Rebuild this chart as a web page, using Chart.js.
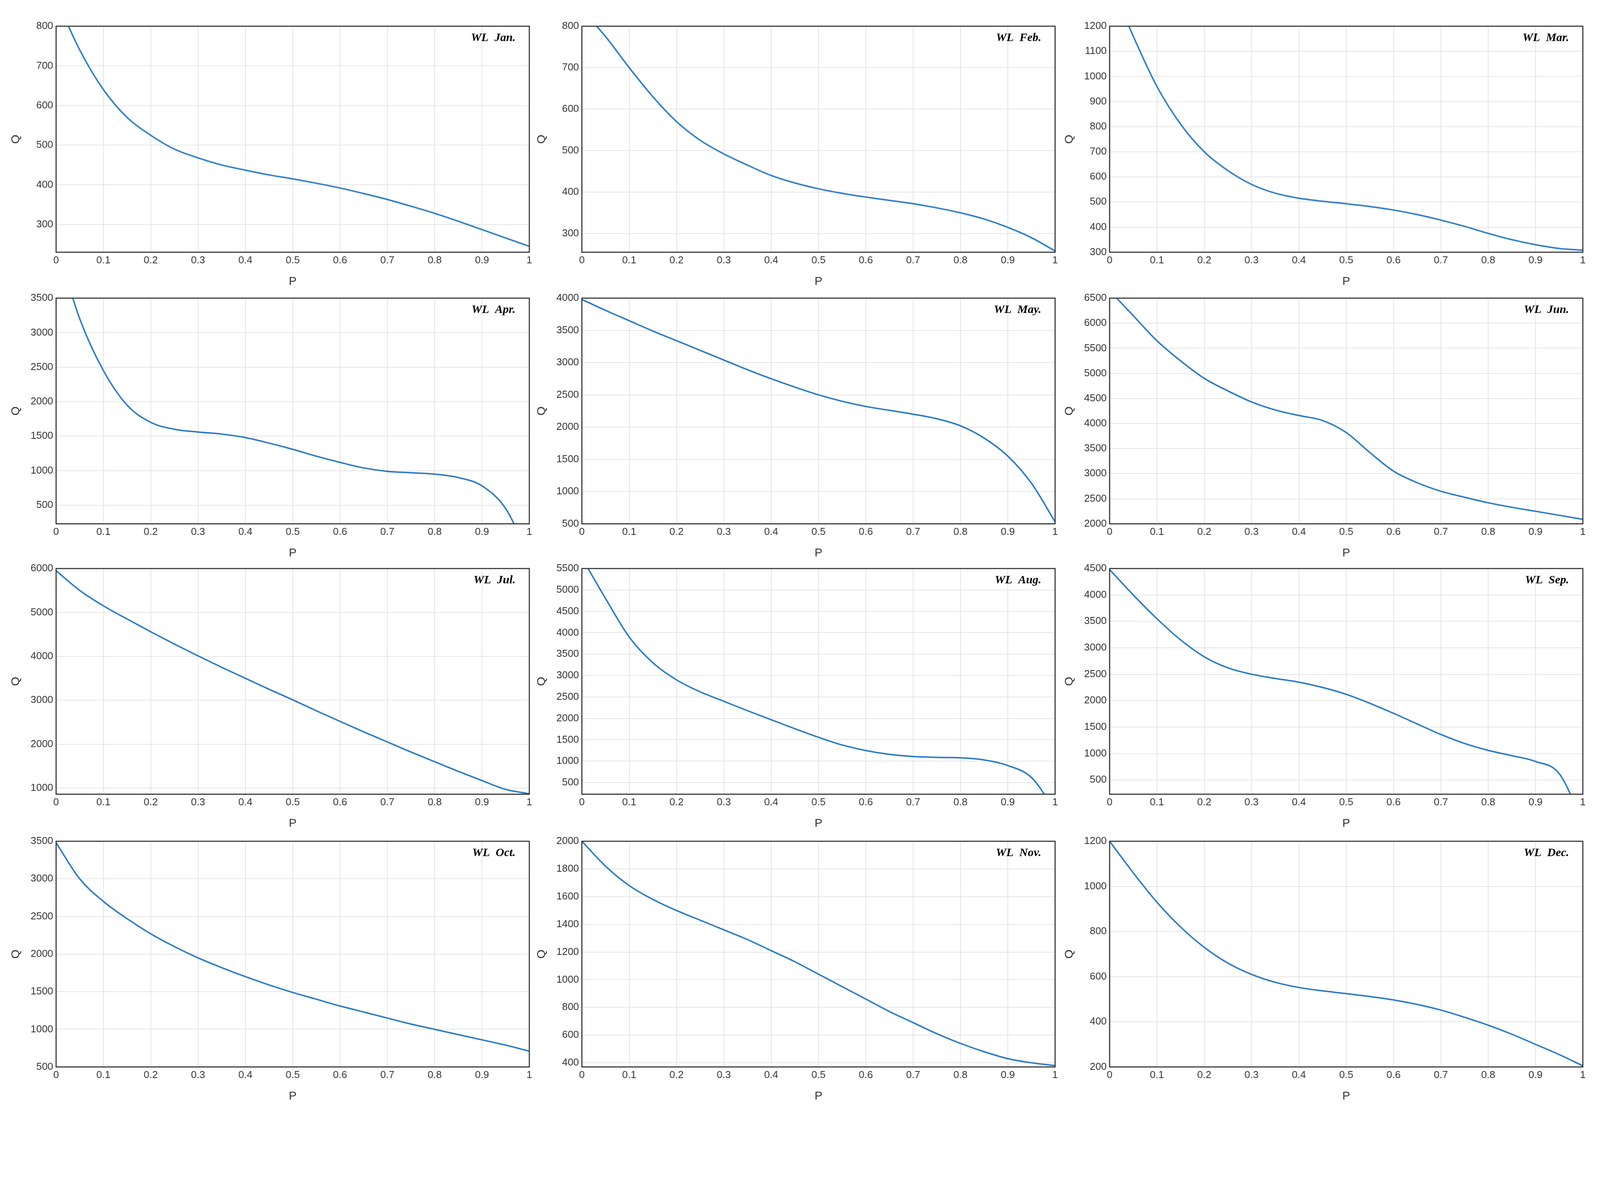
<!DOCTYPE html>
<html>
<head>
<meta charset="utf-8">
<script src="https://cdn.jsdelivr.net/npm/chart.js@4.4.0/dist/chart.umd.min.js"></script>
<style>
  html, body { margin: 0; background: #fff; overflow: hidden; }
  .cell { position: absolute; }
</style>
</head>
<body>
<script>
// P values shared by every panel
const pValues = [0, 0.05, 0.1, 0.15, 0.2, 0.25, 0.3, 0.35, 0.4, 0.45, 0.5,
                 0.55, 0.6, 0.65, 0.7, 0.75, 0.8, 0.85, 0.9, 0.95, 1];

const months = ['Jan.', 'Feb.', 'Mar.', 'Apr.', 'May.', 'Jun.',
                'Jul.', 'Aug.', 'Sep.', 'Oct.', 'Nov.', 'Dec.'];

const qJan = [870, 740, 640, 570, 525, 490, 468, 450, 437, 425, 415, 404, 392, 378, 363, 346, 328, 308, 287, 266, 245];
const qFeb = [840, 775, 700, 630, 570, 525, 492, 465, 440, 422, 408, 397, 388, 380, 372, 362, 350, 335, 315, 290, 258];
const qMar = [1380, 1160, 960, 810, 700, 625, 570, 535, 515, 503, 493, 482, 468, 450, 428, 403, 375, 350, 330, 315, 308];
const qApr = [4300, 3200, 2450, 1950, 1700, 1600, 1560, 1530, 1480, 1400, 1310, 1210, 1120, 1040, 990, 970, 950, 900, 780, 450, -250];
const qMay = [3980, 3810, 3650, 3490, 3340, 3190, 3040, 2890, 2750, 2620, 2500, 2400, 2320, 2260, 2200, 2130, 2020, 1830, 1550, 1130, 530];
const qJun = [6650, 6150, 5650, 5250, 4900, 4650, 4430, 4270, 4160, 4060, 3820, 3420, 3050, 2820, 2650, 2530, 2420, 2330, 2250, 2170, 2090];
const qJul = [5950, 5500, 5150, 4850, 4560, 4280, 4010, 3750, 3500, 3250, 3010, 2760, 2520, 2280, 2050, 1820, 1600, 1380, 1170, 970, 870];
const qAug = [5750, 4800, 3900, 3300, 2900, 2620, 2400, 2180, 1970, 1760, 1560, 1380, 1250, 1160, 1110, 1090, 1080, 1030, 900, 620, -150];
const qSep = [4480, 4000, 3550, 3150, 2830, 2620, 2500, 2420, 2350, 2250, 2120, 1950, 1760, 1560, 1360, 1190, 1060, 960, 850, 620, -300];
const qOct = [3480, 3000, 2700, 2470, 2270, 2100, 1950, 1820, 1700, 1590, 1490, 1400, 1310, 1230, 1150, 1070, 1000, 930, 860, 790, 710];
const qNov = [2000, 1820, 1680, 1580, 1500, 1430, 1360, 1290, 1210, 1130, 1040, 950, 860, 770, 690, 610, 540, 480, 430, 400, 380];
const qDec = [1200, 1060, 930, 820, 730, 660, 610, 575, 552, 537, 525, 512, 497, 477, 452, 420, 385, 345, 300, 255, 205];

const series = [qJan, qFeb, qMar, qApr, qMay, qJun, qJul, qAug, qSep, qOct, qNov, qDec];

// y axis range and tick step of each panel
const yMin  = [230, 255, 300, 230, 500, 2000, 860, 230, 230, 500, 370, 200];
const yMax  = [800, 800, 1200, 3500, 4000, 6500, 6000, 5500, 4500, 3500, 2000, 1200];
const yStep = [100, 100, 100, 500, 500, 500, 1000, 500, 500, 500, 200, 200];

// everything laid out for a 4419 px wide page, scaled to the real window
const s = window.innerWidth / 4419;
const colLeft = [155, 1607, 3065].map(v => v * s);
const rowTop = [68, 818, 1565, 2318].map(v => v * s);
const plotW = 1306 * s, plotH = 628 * s;
const yAxisW = 130 * s, xAxisH = 100 * s, padTop = 20 * s, padRight = 20 * s;
const tickFont = { family: 'Liberation Sans', size: Math.round(28 * s) };
const titleFont = { family: 'Liberation Sans', size: Math.round(32 * s) };

const boxPlugin = {
    id: 'box',
    afterDraw(chart, args, opts) {
        const a = chart.chartArea, c = chart.ctx;
        c.save();
        c.strokeStyle = '#333';
        c.lineWidth = 3 * s;
        c.strokeRect(a.left, a.top, a.right - a.left, a.bottom - a.top);
        c.font = 'italic bold ' + Math.round(32 * s) + 'px "Liberation Serif"';
        c.fillStyle = '#000';
        c.textAlign = 'right';
        c.textBaseline = 'top';
        c.fillText('WL  ' + opts.label, a.right - 38 * s, a.top + 16 * s);
        c.restore();
    }
};

series.forEach((q, i) => {
    const div = document.createElement('div');
    div.className = 'cell';
    div.style.left = (colLeft[i % 3] - yAxisW) + 'px';
    div.style.top = (rowTop[Math.floor(i / 3)] - padTop) + 'px';
    div.style.width = (plotW + yAxisW + padRight) + 'px';
    div.style.height = (plotH + padTop + xAxisH) + 'px';
    const canvas = document.createElement('canvas');
    div.appendChild(canvas);
    document.body.appendChild(div);

    const step = yStep[i];
    new Chart(canvas.getContext('2d'), {
        type: 'line',
        data: {
            datasets: [{
                data: pValues.map((p, k) => ({ x: p, y: q[k] })),
                borderColor: '#2a7ac6',
                borderWidth: 4 * s,
                pointRadius: 0,
                cubicInterpolationMode: 'monotone',
                fill: false
            }]
        },
        options: {
            responsive: true,
            maintainAspectRatio: false,
            animation: false,
            layout: { padding: { top: padTop, right: padRight, left: 0, bottom: 0 } },
            plugins: {
                legend: { display: false },
                tooltip: { enabled: false },
                box: { label: months[i] }
            },
            scales: {
                x: {
                    type: 'linear',
                    min: 0, max: 1,
                    afterBuildTicks(sc) {
                        sc.ticks = [];
                        for (let k = 0; k <= 10; k++) sc.ticks.push({ value: k / 10 });
                    },
                    ticks: { color: '#333', font: tickFont, maxRotation: 0, padding: 6 * s,
                             callback: v => String(Math.round(v * 10) / 10) },
                    grid: { color: '#e2e2e2', lineWidth: 2 * s, tickLength: 0 },
                    border: { display: false },
                    title: { display: true, text: 'P', color: '#333', font: titleFont, padding: 0 },
                    afterFit(sc) { sc.height = xAxisH; }
                },
                y: {
                    min: yMin[i], max: yMax[i],
                    afterBuildTicks(sc) {
                        sc.ticks = [];
                        for (let v = Math.ceil(yMin[i] / step) * step; v <= yMax[i]; v += step) sc.ticks.push({ value: v });
                    },
                    ticks: { color: '#333', font: tickFont, padding: 8 * s, callback: v => String(v) },
                    grid: { color: '#e2e2e2', lineWidth: 2 * s, tickLength: 0 },
                    border: { display: false },
                    title: { display: true, text: 'Q', color: '#333', font: titleFont, padding: 0 },
                    afterFit(sc) { sc.width = yAxisW; }
                }
            }
        },
        plugins: [boxPlugin]
    });
});
</script>
</body>
</html>
